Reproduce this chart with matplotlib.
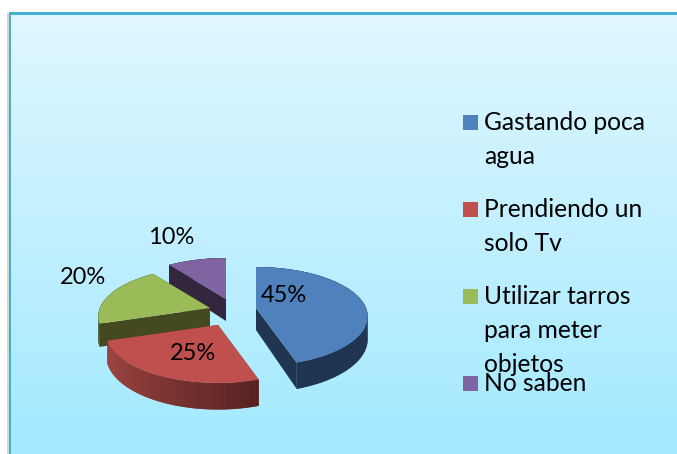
import numpy as np
import matplotlib
matplotlib.use('Agg')
import matplotlib.pyplot as plt
from matplotlib.colors import LinearSegmentedColormap, to_rgb
from matplotlib.patches import Rectangle

categories = ['Gastando poca\nagua', 'Prendiendo un\nsolo Tv', 'Utilizar tarros\npara meter\nobjetos', 'No saben']
values = [45, 25, 20, 10]
pct_labels = ['45%', '25%', '20%', '10%']
top_colors = ['#4f81bd', '#c0504d', '#9bbb59', '#8064a2']
side_colors = ['#1f3552', '#a84a47', '#44491f', '#33263f']
side_dark = ['#1f3552', '#552220', '#44491f', '#33263f']
cut_colors = ['#1f3552', '#552220', '#44491f', '#33263f']

# Apex of each exploded slice, in pixels
apexes = [(256, 308), (218, 325), (210, 308), (226, 299)]
label_pos = [(284, 295), (193, 353), (83, 277), (171, 237)]
legend_y = [115, 202, 289, 376]

R = 110
SQUASH = 48
PERSP = 0.172
DEPTH = 22


def project(ang, r, apex):
    # clockwise from 12 o'clock, with a little perspective
    x = r * np.sin(ang)
    y = r * np.cos(ang)
    p = 1 / (1 + PERSP * y)
    return apex[0] + R * x * p, apex[1] - SQUASH * y * p, DEPTH * p


def draw_slice(ax, start, end, apex, top, side, dark, cut):
    ang = np.radians(np.linspace(start, end, 60))
    xs, ys, ds = project(ang, 1.0, apex)
    # cut faces
    for i in (0, -1):
        ax.fill([apex[0], xs[i], xs[i], apex[0]],
                [apex[1], ys[i], ys[i] + ds[i], apex[1] + DEPTH],
                color=cut, lw=0)
    # outer wall, darker towards the right
    c1, c2 = np.array(to_rgb(side)), np.array(to_rgb(dark))
    ax.fill(np.r_[xs, xs[::-1]], np.r_[ys, (ys + ds)[::-1]], color=(c1 + c2) / 2, lw=0)
    for i in range(len(ang) - 1):
        t = i / (len(ang) - 2)
        col = c2 * (1 - t) + c1 * t
        ax.fill([xs[i], xs[i + 1], xs[i + 1], xs[i]],
                [ys[i], ys[i + 1], ys[i + 1] + ds[i + 1], ys[i] + ds[i]],
                color=col, lw=0)
    ax.fill(np.r_[apex[0], xs], np.r_[apex[1], ys], color=top, lw=0)


fig = plt.figure(figsize=(6.77, 4.54), dpi=100)
plt.rcParams['font.family'] = ['Lato', 'DejaVu Sans']
ax = fig.add_axes([0, 0, 1, 1])
ax.set_xlim(0, 677)
ax.set_ylim(454, 0)
ax.axis('off')

# Background panel
cmap = LinearSegmentedColormap.from_list('bg', ['#e0f7ff', '#a3e9ff'])
ax.imshow(np.linspace(0, 1, 256).reshape(-1, 1), cmap=cmap, aspect='auto',
          extent=(9, 677, 454, 13), zorder=0)
ax.add_patch(Rectangle((7, 13), 1.5, 441, color='#d5d5d5', lw=0, zorder=1))
ax.add_patch(Rectangle((8.5, 12), 2.5, 442, color='#45b0cf', lw=0, zorder=2))
ax.add_patch(Rectangle((8.5, 12), 668.5, 3, color='#45b0cf', lw=0, zorder=2))
ax.set_xlim(0, 677)
ax.set_ylim(454, 0)

# Slices, back to front
edges = np.r_[0, np.cumsum(values)] * 360 / sum(values)
for i in [3, 2, 1, 0]:
    draw_slice(ax, edges[i], edges[i + 1], apexes[i], top_colors[i], side_colors[i], side_dark[i], cut_colors[i])

for (x, y), txt in zip(label_pos, pct_labels):
    ax.text(x, y, txt, fontsize=17, color='black', ha='center', va='center')

# Legend
for i, name in enumerate(categories):
    ax.add_patch(Rectangle((463, legend_y[i]), 15, 15, color=top_colors[i], lw=0))
    ax.text(484, legend_y[i] - 4, name, fontsize=17.7, color='black', ha='left', va='top', linespacing=1.57)

fig.savefig('out.png', dpi=100)
